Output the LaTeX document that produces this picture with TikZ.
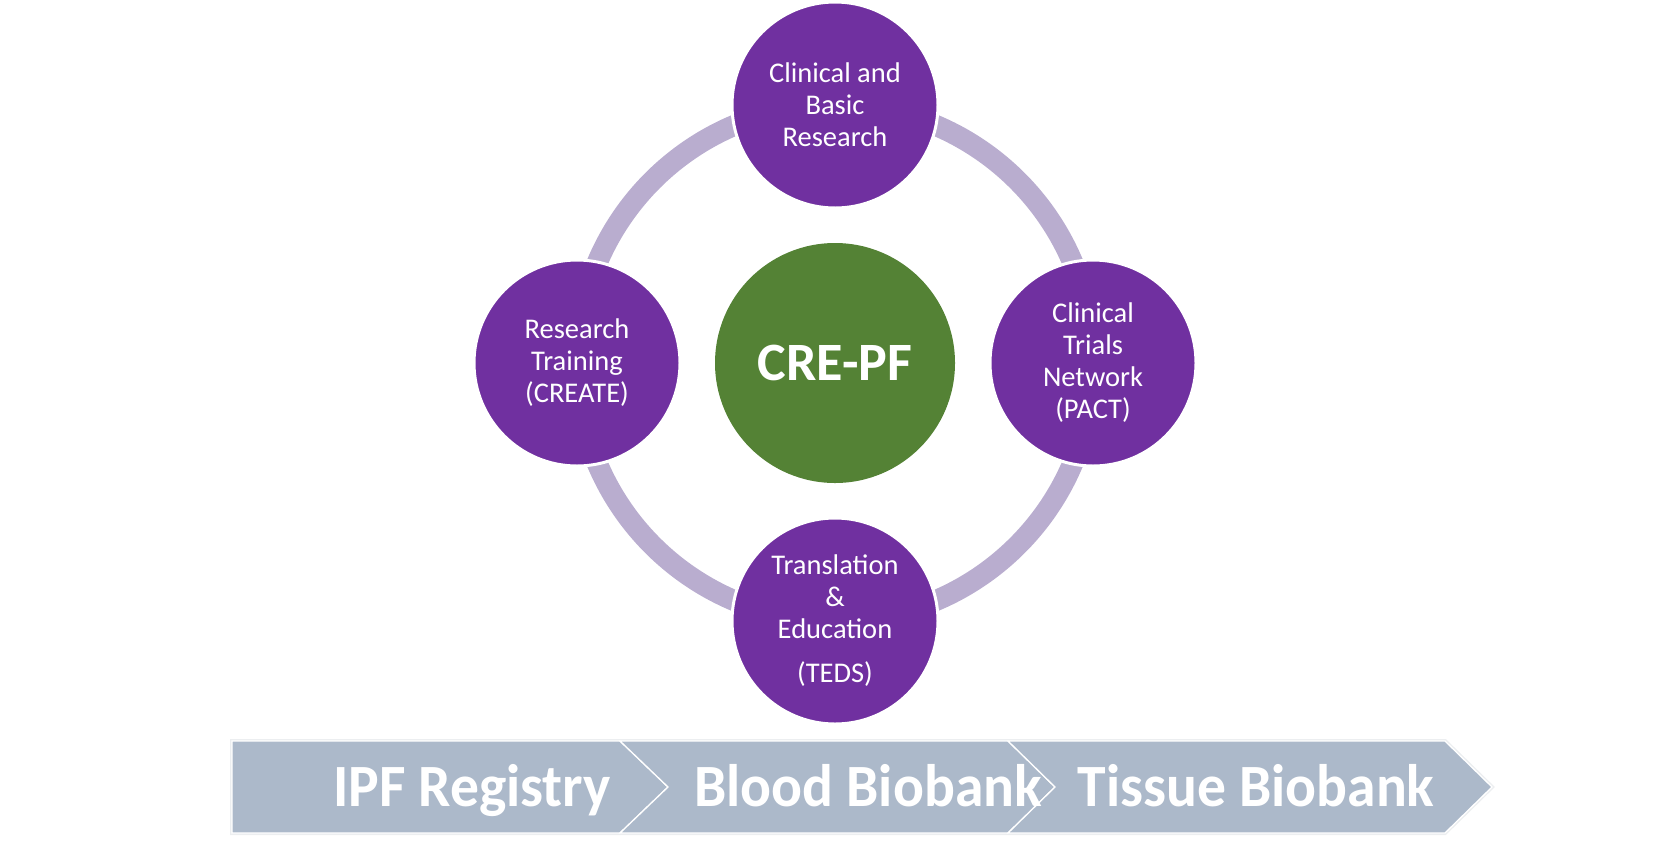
\documentclass[tikz,border=0pt]{standalone}
\usepackage{fontspec}
\setmainfont{Carlito}
\newfontfamily\chevfont[FakeStretch=0.96]{Carlito}
\definecolor{cpurple}{HTML}{7030A0}
\definecolor{cgreen}{HTML}{548235}
\definecolor{cring}{RGB}{185,173,207}
\definecolor{cchev}{HTML}{ACB9CA}
\definecolor{cchevedge}{RGB}{236,238,240}
\tikzset{
  hub/.style={circle,fill=cpurple,draw=white,line width=3pt,minimum size=206pt,inner sep=0pt,
    text=white,align=center,font=\fontsize{28.5}{32}\selectfont},
  core/.style={circle,fill=cgreen,minimum size=240pt,inner sep=0pt,text=white,
    font=\fontsize{54}{60}\selectfont\bfseries},
  chev/.style={fill=cchev,draw=white,line width=1.3pt,line join=miter},
  chevtext/.style={anchor=base,text=white,font=\chevfont\fontsize{60}{66}\selectfont\bfseries},
}
\begin{document}
\begin{tikzpicture}[x=1pt,y=-1pt]
\useasboundingbox (0,0) rectangle (1670,855);
% ring
\coordinate (ringc) at (835,363);
\draw[cring,line width=21pt] (ringc) circle[radius=258];
% centre and hubs
\node[core] (crepf) at (835,363) {CRE-PF};
\node[hub] (top) at (835,105) {Clinical and\\Basic\\Research};
\node[hub] (left) at (577,363) {Research\\Training\\(CREATE)};
\node[hub] (right) at (1093,363) {Clinical\\Trials\\Network\\(PACT)};
\node[hub] (bottom) at (835,621) {Translation\\\&\\Education\\[12pt](TEDS)};
% chevron bar
\draw[cchevedge,line width=4pt,line join=miter] (232,741) -- (1445,741) -- (1492,787) -- (1445,833) -- (232,833) -- cycle;
\draw[chev] (232,741) -- (620,741) -- (668,787) -- (620,833) -- (232,833) -- cycle;
\draw[chev] (620,741) -- (1008,741) -- (1055,787) -- (1008,833) -- (620,833) -- (668,787) -- cycle;
\draw[chev] (1008,741) -- (1445,741) -- (1492,787) -- (1445,833) -- (1008,833) -- (1055,787) -- cycle;
\node[chevtext] (ipf) at (472,806) {IPF Registry};
\node[chevtext] (blood) at (868,806) {Blood Biobank};
\node[chevtext] (tissue) at (1256,806) {Tissue Biobank};
\end{tikzpicture}
\end{document}
